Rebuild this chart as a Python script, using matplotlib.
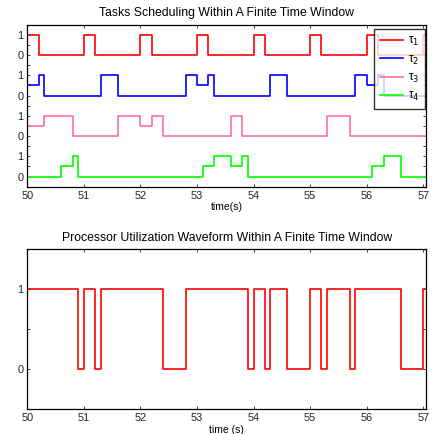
import matplotlib
matplotlib.use("Agg")
import matplotlib.pyplot as plt
import numpy as np

plt.rcParams['font.family'] = ['Liberation Sans', 'DejaVu Sans']

# ---- data ----
task_names = ['τ$_1$', 'τ$_2$', 'τ$_3$', 'τ$_4$']
task_colors = ['#ff0000', '#0000ff', '#ff6ea0', '#00ff00']

t1_times = [50, 50.2, 51, 51.2, 52, 52.2, 53, 53.2, 54, 54.2, 55, 55.2, 56, 56.2, 57, 57.1]
t1_vals = [1, 0, 1, 0, 1, 0, 1, 0, 1, 0, 1, 0, 1, 0, 1, 1]

t2_times = [50, 50.2, 50.3, 51.3, 51.6, 52.8, 53.0, 53.2, 53.3, 54.3, 54.6, 55.8, 56.0, 56.2, 56.3, 57.1]
t2_vals = [0.5, 1, 0, 1, 0, 1, 0.5, 1, 0, 1, 0, 1, 0.5, 1, 0, 0]

t3_times = [50, 50.3, 50.8, 51.6, 52.0, 52.2, 52.4, 53.6, 53.8, 55.3, 55.7, 57.1]
t3_vals = [0.5, 1, 0, 1, 0.5, 1, 0, 1, 0, 1, 0, 0]

t4_times = [50, 50.6, 50.8, 50.9, 53.1, 53.3, 53.6, 53.8, 53.9, 56.1, 56.3, 56.6, 57.1]
t4_vals = [0, 0.5, 1, 0, 0.5, 1, 0.5, 1, 0, 0.5, 1, 0, 0]

util_times = [50, 50.9, 51.0, 51.2, 51.3, 52.4, 52.8, 53.9, 54.0, 54.2, 54.3, 54.6,
              55.0, 55.2, 55.3, 55.7, 55.8, 56.6, 57.0, 57.1]
util_vals = [1, 0, 1, 0, 1, 0, 1, 0, 1, 0, 1, 0, 1, 0, 1, 0, 1, 0, 1, 1]

x_ticks = [50, 51, 52, 53, 54, 55, 56, 57]

tasks = [(t1_times, t1_vals), (t2_times, t2_vals), (t3_times, t3_vals), (t4_times, t4_vals)]
offsets = [6, 4, 2, 0]

# ---- figure ----
fig = plt.figure(figsize=(4.32, 4.34), dpi=100)
W, H = 432, 434

def axes_px(l, r, t, b):
    return fig.add_axes([l / W, 1 - b / H, (r - l) / W, (b - t) / H])

ax1 = axes_px(27.3, 426, 24.7, 186.7)
ax2 = axes_px(27.3, 426, 249.3, 409)

def style(ax):
    for s in ax.spines.values():
        s.set_linewidth(0.9)
        s.set_color('black')
    ax.tick_params(direction='in', length=2.5, width=0.6, top=True, right=True,
                   labelsize=7.8, pad=3, colors='#222222')
    ax.set_xlim(50, 57.05)
    ax.set_xticks(x_ticks)
    ax.set_xticklabels([str(v) for v in x_ticks])

for (tt, vv), off, c, name in zip(tasks, offsets, task_colors, task_names):
    ax1.plot(tt, np.array(vv) + off, drawstyle='steps-post', color=c, lw=1.2, label=name)

style(ax1)
ax1.set_ylim(-0.5, 7.5)
yt = np.arange(0, 7.01, 0.5)
ax1.set_yticks(yt)
ax1.set_yticklabels([('1' if int(v) % 2 else '0') if float(v).is_integer() else '' for v in yt])
ax1.set_title('Tasks Scheduling Within A Finite Time Window', fontsize=8.8, pad=6)
ax1.set_xlabel('time(s)', fontsize=7.5, labelpad=1)
leg = ax1.legend(loc='upper right', bbox_to_anchor=(0.9975, 0.972), borderaxespad=0,
                 fontsize=8.5, frameon=True, fancybox=False, handlelength=2.0,
                 handletextpad=0.35, labelspacing=0.45, borderpad=0.5)
leg.get_frame().set_edgecolor('black')
leg.get_frame().set_linewidth(1.0)

ax2.plot(util_times, util_vals, drawstyle='steps-post', color='#ff0000', lw=1.2)
style(ax2)
ax2.set_ylim(-0.5, 1.5)
ax2.set_yticks([0, 0.5, 1])
ax2.set_yticklabels(['0', '', '1'])
ax2.set_title('Processor Utilization Waveform Within A Finite Time Window', fontsize=8.8, pad=6)
ax2.set_xlabel('time (s)', fontsize=7.5, labelpad=1)

fig.savefig('out.png', dpi=100)
